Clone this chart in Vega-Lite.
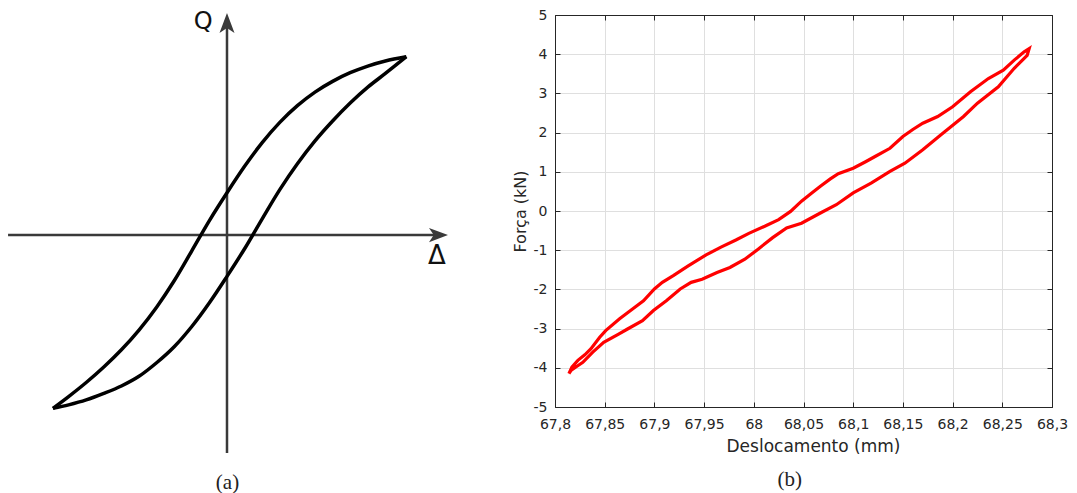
{
  "$schema": "https://vega.github.io/schema/vega-lite/v6.json",
  "padding": {"left": 0, "top": 7, "right": 0, "bottom": 0},
  "background": "white",
  "bounds": "flush",
  "spacing": 100,
  "config": {"view": {"stroke": null}, "font": "DejaVu Sans"},
  "datasets": {
    "schematic": [
      {"branch": "up", "i": 1, "d": -0.989, "q": -0.985},
      {"branch": "up", "i": 2, "d": -0.9, "q": -0.918},
      {"branch": "up", "i": 3, "d": -0.8, "q": -0.838},
      {"branch": "up", "i": 4, "d": -0.7, "q": -0.750},
      {"branch": "up", "i": 5, "d": -0.6, "q": -0.652},
      {"branch": "up", "i": 6, "d": -0.5, "q": -0.540},
      {"branch": "up", "i": 7, "d": -0.4, "q": -0.410},
      {"branch": "up", "i": 8, "d": -0.3, "q": -0.260},
      {"branch": "up", "i": 9, "d": -0.2, "q": -0.090},
      {"branch": "up", "i": 10, "d": -0.1, "q": 0.082},
      {"branch": "up", "i": 11, "d": 0.0, "q": 0.240},
      {"branch": "up", "i": 12, "d": 0.1, "q": 0.390},
      {"branch": "up", "i": 13, "d": 0.2, "q": 0.525},
      {"branch": "up", "i": 14, "d": 0.3, "q": 0.640},
      {"branch": "up", "i": 15, "d": 0.4, "q": 0.735},
      {"branch": "up", "i": 16, "d": 0.5, "q": 0.812},
      {"branch": "up", "i": 17, "d": 0.6, "q": 0.873},
      {"branch": "up", "i": 18, "d": 0.7, "q": 0.922},
      {"branch": "up", "i": 19, "d": 0.8, "q": 0.960},
      {"branch": "up", "i": 20, "d": 0.9, "q": 0.989},
      {"branch": "up", "i": 21, "d": 1.019, "q": 1.013},
      {"branch": "down", "i": 1, "d": 1.019, "q": 1.013},
      {"branch": "down", "i": 2, "d": 0.9, "q": 0.918},
      {"branch": "down", "i": 3, "d": 0.8, "q": 0.840},
      {"branch": "down", "i": 4, "d": 0.7, "q": 0.750},
      {"branch": "down", "i": 5, "d": 0.6, "q": 0.648},
      {"branch": "down", "i": 6, "d": 0.5, "q": 0.535},
      {"branch": "down", "i": 7, "d": 0.4, "q": 0.405},
      {"branch": "down", "i": 8, "d": 0.3, "q": 0.258},
      {"branch": "down", "i": 9, "d": 0.2, "q": 0.092},
      {"branch": "down", "i": 10, "d": 0.1, "q": -0.078},
      {"branch": "down", "i": 11, "d": 0.0, "q": -0.235},
      {"branch": "down", "i": 12, "d": -0.1, "q": -0.385},
      {"branch": "down", "i": 13, "d": -0.2, "q": -0.520},
      {"branch": "down", "i": 14, "d": -0.3, "q": -0.635},
      {"branch": "down", "i": 15, "d": -0.4, "q": -0.726},
      {"branch": "down", "i": 16, "d": -0.5, "q": -0.803},
      {"branch": "down", "i": 17, "d": -0.6, "q": -0.858},
      {"branch": "down", "i": 18, "d": -0.7, "q": -0.900},
      {"branch": "down", "i": 19, "d": -0.8, "q": -0.937},
      {"branch": "down", "i": 20, "d": -0.9, "q": -0.965},
      {"branch": "down", "i": 21, "d": -0.989, "q": -0.985}
    ],
    "axesA": [
      {"name": "delta", "d1": -1.244, "q1": 0, "d2": 1.20, "q2": 0},
      {"name": "Q", "d1": 0, "q1": -1.239, "d2": 0, "q2": 1.21}
    ],
    "arrows": [
      {"dir": "right", "d": 1.2557, "q": 0},
      {"dir": "up", "d": 0, "q": 1.2614}
    ],
    "labelsA": [
      {"label": "Q", "d": -0.136, "q": 1.21},
      {"label": "Δ", "d": 1.193, "q": -0.119}
    ],
    "loop": [
      {"i": 1, "x": 67.814, "y": -4.15},
      {"i": 2, "x": 67.817, "y": -3.98},
      {"i": 3, "x": 67.823, "y": -3.81},
      {"i": 4, "x": 67.830, "y": -3.67},
      {"i": 5, "x": 67.836, "y": -3.52},
      {"i": 6, "x": 67.845, "y": -3.22},
      {"i": 7, "x": 67.851, "y": -3.05},
      {"i": 8, "x": 67.865, "y": -2.75},
      {"i": 9, "x": 67.878, "y": -2.50},
      {"i": 10, "x": 67.889, "y": -2.29},
      {"i": 11, "x": 67.900, "y": -1.99},
      {"i": 12, "x": 67.908, "y": -1.82},
      {"i": 13, "x": 67.919, "y": -1.65},
      {"i": 14, "x": 67.934, "y": -1.40},
      {"i": 15, "x": 67.952, "y": -1.12},
      {"i": 16, "x": 67.967, "y": -0.92},
      {"i": 17, "x": 67.982, "y": -0.74},
      {"i": 18, "x": 67.995, "y": -0.57},
      {"i": 19, "x": 68.011, "y": -0.39},
      {"i": 20, "x": 68.025, "y": -0.22},
      {"i": 21, "x": 68.037, "y": -0.01},
      {"i": 22, "x": 68.048, "y": 0.25},
      {"i": 23, "x": 68.058, "y": 0.45},
      {"i": 24, "x": 68.067, "y": 0.63},
      {"i": 25, "x": 68.077, "y": 0.82},
      {"i": 26, "x": 68.085, "y": 0.95},
      {"i": 27, "x": 68.100, "y": 1.09},
      {"i": 28, "x": 68.112, "y": 1.25},
      {"i": 29, "x": 68.122, "y": 1.39},
      {"i": 30, "x": 68.137, "y": 1.60},
      {"i": 31, "x": 68.150, "y": 1.90},
      {"i": 32, "x": 68.160, "y": 2.08},
      {"i": 33, "x": 68.170, "y": 2.24},
      {"i": 34, "x": 68.185, "y": 2.41},
      {"i": 35, "x": 68.200, "y": 2.66},
      {"i": 36, "x": 68.218, "y": 3.04},
      {"i": 37, "x": 68.236, "y": 3.38},
      {"i": 38, "x": 68.251, "y": 3.59},
      {"i": 39, "x": 68.262, "y": 3.85},
      {"i": 40, "x": 68.272, "y": 4.06},
      {"i": 41, "x": 68.277, "y": 4.14},
      {"i": 42, "x": 68.275, "y": 3.97},
      {"i": 43, "x": 68.262, "y": 3.64},
      {"i": 44, "x": 68.246, "y": 3.17},
      {"i": 45, "x": 68.225, "y": 2.75},
      {"i": 46, "x": 68.211, "y": 2.41},
      {"i": 47, "x": 68.188, "y": 1.94},
      {"i": 48, "x": 68.170, "y": 1.56},
      {"i": 49, "x": 68.152, "y": 1.22},
      {"i": 50, "x": 68.137, "y": 1.01},
      {"i": 51, "x": 68.118, "y": 0.71},
      {"i": 52, "x": 68.100, "y": 0.46},
      {"i": 53, "x": 68.083, "y": 0.16},
      {"i": 54, "x": 68.067, "y": -0.05},
      {"i": 55, "x": 68.048, "y": -0.31},
      {"i": 56, "x": 68.033, "y": -0.43},
      {"i": 57, "x": 68.019, "y": -0.68},
      {"i": 58, "x": 68.004, "y": -0.98},
      {"i": 59, "x": 67.991, "y": -1.23},
      {"i": 60, "x": 67.976, "y": -1.44},
      {"i": 61, "x": 67.963, "y": -1.57},
      {"i": 62, "x": 67.948, "y": -1.74},
      {"i": 63, "x": 67.937, "y": -1.82},
      {"i": 64, "x": 67.926, "y": -1.99},
      {"i": 65, "x": 67.912, "y": -2.29},
      {"i": 66, "x": 67.899, "y": -2.54},
      {"i": 67, "x": 67.888, "y": -2.80},
      {"i": 68, "x": 67.873, "y": -3.01},
      {"i": 69, "x": 67.864, "y": -3.14},
      {"i": 70, "x": 67.849, "y": -3.35},
      {"i": 71, "x": 67.838, "y": -3.60},
      {"i": 72, "x": 67.828, "y": -3.86},
      {"i": 73, "x": 67.821, "y": -3.98},
      {"i": 74, "x": 67.816, "y": -4.07},
      {"i": 75, "x": 67.814, "y": -4.15}
    ]
  },
  "hconcat": [
    {
      "width": 455,
      "height": 392,
      "title": {"text": "(a)", "orient": "bottom", "frame": "group", "anchor": "middle", "font": "Liberation Serif", "fontSize": 21, "fontWeight": "normal", "color": "#222222", "offset": 18},
      "layer": [
        {
          "data": {"name": "axesA"},
          "mark": {"type": "rule", "color": "#3a3a3a", "strokeWidth": 2.5},
          "encoding": {
            "x": {"field": "d1", "type": "quantitative", "scale": {"domain": [-1.2898, 1.2955], "nice": false, "zero": false}, "axis": null},
            "y": {"field": "q1", "type": "quantitative", "scale": {"domain": [-0.97727, 1.25], "nice": false, "zero": false}, "axis": null},
            "x2": {"field": "d2"},
            "y2": {"field": "q2"}
          }
        },
        {
          "data": {"name": "schematic"},
          "mark": {"type": "line", "color": "black", "strokeWidth": 3.5, "interpolate": "catmull-rom", "strokeJoin": "miter"},
          "encoding": {
            "x": {"field": "d", "type": "quantitative"},
            "y": {"field": "q", "type": "quantitative"},
            "detail": {"field": "branch"},
            "order": {"field": "i", "type": "quantitative"}
          }
        },
        {
          "data": {"name": "arrows"},
          "transform": [{"filter": "datum.dir == 'right'"}],
          "mark": {"type": "point", "shape": "M0,0L-2,-0.75L-1.5,0L-2,0.75Z", "filled": true, "color": "#3a3a3a", "opacity": 1, "size": 361, "strokeWidth": 0},
          "encoding": {"x": {"field": "d", "type": "quantitative"}, "y": {"field": "q", "type": "quantitative"}}
        },
        {
          "data": {"name": "arrows"},
          "transform": [{"filter": "datum.dir == 'up'"}],
          "mark": {"type": "point", "shape": "M0,0L-0.75,2L0,1.5L0.75,2Z", "filled": true, "color": "#3a3a3a", "opacity": 1, "size": 400, "strokeWidth": 0},
          "encoding": {"x": {"field": "d", "type": "quantitative"}, "y": {"field": "q", "type": "quantitative"}}
        },
        {
          "data": {"name": "labelsA"},
          "transform": [{"filter": "datum.label == 'Q'"}],
          "mark": {"type": "text", "font": "DejaVu Sans", "fontSize": 24, "color": "#111111"},
          "encoding": {"x": {"field": "d", "type": "quantitative"}, "y": {"field": "q", "type": "quantitative"}, "text": {"field": "label"}}
        },
        {
          "data": {"name": "labelsA"},
          "transform": [{"filter": "datum.label == 'Δ'"}],
          "mark": {"type": "text", "font": "DejaVu Sans", "fontSize": 26, "color": "#111111"},
          "encoding": {"x": {"field": "d", "type": "quantitative"}, "y": {"field": "q", "type": "quantitative"}, "text": {"field": "label"}}
        }
      ]
    },
    {
      "width": 497,
      "height": 392,
      "view": {"stroke": "#262626", "strokeWidth": 1},
      "title": {"text": "(b)", "orient": "bottom", "frame": "bounds", "anchor": "middle", "font": "Liberation Serif", "fontSize": 21, "fontWeight": "normal", "color": "#222222", "offset": 15},
      "data": {"name": "loop"},
      "layer": [
        {
          "mark": {"type": "line", "color": "#ff0000", "strokeWidth": 3.2, "interpolate": "linear"},
          "encoding": {
            "x": {
              "field": "x", "type": "quantitative",
              "scale": {"domain": [67.8, 68.3], "nice": false, "zero": false},
              "axis": {
                "orient": "bottom",
                "values": [67.8, 67.85, 67.9, 67.95, 68, 68.05, 68.1, 68.15, 68.2, 68.25, 68.3],
                "labelExpr": "replace(toString(datum.value), '.', ',')",
                "labelFlush": false, "labelOverlap": false, "labelBound": false,
                "tickSize": -5, "tickColor": "#262626", "labelPadding": 15,
                "domainColor": "#262626", "grid": true, "gridColor": "#dfdfdf",
                "labelFont": "DejaVu Sans", "labelFontSize": 14, "labelColor": "#262626",
                "title": "Deslocamento (mm)", "titleFont": "DejaVu Sans", "titleFontSize": 17, "titleFontWeight": "normal", "titleColor": "#262626", "titlePadding": 7, "titleX": 258
              }
            },
            "y": {
              "field": "y", "type": "quantitative",
              "scale": {"domain": [-5, 5], "nice": false, "zero": false},
              "axis": {
                "orient": "left",
                "values": [-5, -4, -3, -2, -1, 0, 1, 2, 3, 4, 5],
                "labelExpr": "toString(datum.value)",
                "labelFlush": false, "labelOverlap": false, "labelBound": false,
                "tickSize": -5, "tickColor": "#262626", "labelPadding": 13,
                "domainColor": "#262626", "grid": true, "gridColor": "#dfdfdf",
                "labelFont": "DejaVu Sans", "labelFontSize": 14, "labelColor": "#262626",
                "title": "Força (kN)", "titleFont": "DejaVu Sans", "titleFontSize": 16, "titleFontWeight": "normal", "titleColor": "#262626", "titlePadding": 5
              }
            },
            "order": {"field": "i", "type": "quantitative"}
          }
        },
        {
          "mark": {"type": "line", "opacity": 0},
          "encoding": {
            "x": {
              "field": "x", "type": "quantitative",
              "axis": {"orient": "top", "values": [67.8, 67.85, 67.9, 67.95, 68, 68.05, 68.1, 68.15, 68.2, 68.25, 68.3], "labels": false, "grid": false, "tickSize": -5, "tickColor": "#262626", "domainColor": "#262626", "title": null}
            },
            "y": {
              "field": "y", "type": "quantitative",
              "axis": {"orient": "right", "values": [-5, -4, -3, -2, -1, 0, 1, 2, 3, 4, 5], "labels": false, "grid": false, "tickSize": -5, "tickColor": "#262626", "domainColor": "#262626", "title": null}
            },
            "order": {"field": "i", "type": "quantitative"}
          }
        }
      ]
    }
  ]
}
